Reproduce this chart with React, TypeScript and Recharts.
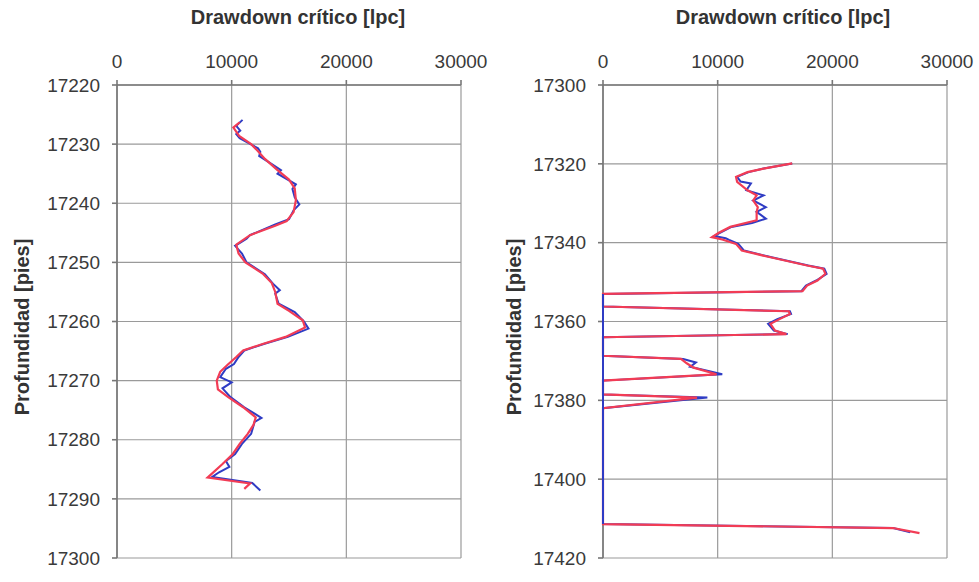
import React from "react";
import { ScatterChart, Scatter, XAxis, YAxis, CartesianGrid } from "recharts";

const BLUE = "#2f3cc4";
const RED = "#f23c55";

// [depth, value]
const leftBlue = [
  [17225.9, 10950], [17226.9, 10400], [17227.7, 10750], [17228.3, 10400],
  [17229.0, 10700], [17230.7, 12300], [17231.3, 12500], [17232.0, 12400],
  [17233.5, 13600], [17234.4, 14300], [17235.0, 14000], [17236.8, 15600],
  [17237.6, 15300], [17239.0, 15500], [17240.2, 15900], [17241.2, 15400],
  [17242.7, 15000], [17243.6, 13800], [17245.4, 11600], [17246.0, 11300],
  [17247.2, 10300], [17248.5, 10900], [17250.0, 11300], [17252.0, 12900],
  [17253.6, 13600], [17254.7, 14200], [17255.3, 13800], [17257.0, 14100],
  [17258.4, 15500], [17260.0, 16300], [17261.2, 16700], [17262.6, 14900],
  [17263.8, 12800], [17264.9, 11100], [17266.0, 10600], [17267.2, 10200],
  [17268.0, 9500], [17269.4, 9000], [17270.3, 10000], [17271.3, 9200],
  [17272.8, 9900], [17274.5, 11100], [17276.3, 12600], [17277.0, 12000],
  [17279.0, 11700], [17280.7, 10900], [17282.4, 10300], [17283.6, 9500],
  [17284.6, 9800], [17285.5, 8900], [17286.3, 8300], [17287.3, 11800],
  [17288.6, 12500],
];

const leftRed = [
  [17226.3, 10700], [17227.2, 10150], [17228.6, 10650], [17230.0, 11700],
  [17231.0, 12200], [17232.5, 12900], [17234.4, 14000], [17236.0, 15000],
  [17237.5, 15500], [17239.5, 15600], [17241.5, 15400], [17243.0, 14800],
  [17243.8, 13800], [17245.4, 11600], [17247.0, 10400], [17248.5, 10600],
  [17250.0, 11200], [17251.9, 12700], [17253.5, 13500], [17255.0, 13800],
  [17257.0, 14000], [17258.2, 15000], [17259.8, 16200], [17261.0, 16400],
  [17262.6, 14700], [17263.8, 12700], [17264.9, 11000], [17266.0, 10400],
  [17267.4, 9600], [17268.5, 9000], [17270.0, 8700], [17271.5, 8800],
  [17272.8, 9700], [17274.5, 11000], [17276.2, 12100], [17277.5, 11900],
  [17279.0, 11400], [17280.7, 10700], [17282.4, 10100], [17284.1, 9200],
  [17286.4, 7900], [17287.4, 11600], [17288.3, 11100],
];

const rightBlue = [
  [17319.9, 16500], [17321.2, 14000], [17322.1, 12700], [17323.3, 11700],
  [17324.5, 12000], [17325.0, 12900], [17326.7, 12500], [17328.0, 14000],
  [17329.3, 13100], [17331.0, 14200], [17332.2, 13400], [17333.9, 14200],
  [17335.0, 13000], [17336.0, 11200], [17338.3, 9700], [17338.9, 10700],
  [17339.3, 11000], [17340.3, 11800], [17342.0, 12300], [17343.7, 14700],
  [17345.8, 17900], [17346.6, 19300], [17347.9, 19500], [17349.6, 18600],
  [17350.9, 17700], [17352.3, 17300], [17353.0, 0], [17356.2, 0],
  [17357.4, 16300], [17358.1, 16400], [17359.4, 15200], [17360.6, 14400],
  [17362.3, 14900], [17363.2, 16100], [17364.0, 0], [17368.7, 0],
  [17369.5, 7000], [17370.4, 8100], [17371.5, 7600], [17373.4, 10400],
  [17375.0, 0], [17378.5, 0], [17379.3, 9100], [17382.0, 0],
  [17411.4, 0], [17412.4, 25300], [17413.5, 26800],
];

const rightRed = [
  [17319.9, 16500], [17321.2, 14000], [17322.1, 12600], [17323.3, 11600],
  [17324.6, 11700], [17326.7, 12600], [17328.0, 13400], [17329.3, 13100],
  [17331.0, 13500], [17332.2, 13400], [17334.3, 13400], [17336.0, 11100],
  [17337.5, 10100], [17338.6, 9500], [17339.2, 10400], [17340.3, 11600],
  [17342.0, 12100], [17343.7, 14600], [17345.8, 17800], [17346.6, 19200],
  [17347.9, 19400], [17349.6, 18700], [17350.9, 17800], [17352.3, 17400],
  [17353.0, 0], [17356.2, 0], [17357.4, 16200], [17358.1, 16300],
  [17359.4, 15400], [17360.6, 14600], [17362.3, 15000], [17363.2, 16000],
  [17364.0, 0], [17368.7, 0], [17369.5, 6800], [17370.6, 7300],
  [17371.7, 7900], [17373.4, 9900], [17375.0, 0], [17378.5, 0],
  [17379.3, 8200], [17382.0, 0], [17411.4, 0], [17412.4, 25300],
  [17413.7, 27600],
];

const xTicks = [0, 10000, 20000, 30000];
const leftDepthTicks = [17220, 17230, 17240, 17250, 17260, 17270, 17280, 17290, 17300];
const rightDepthTicks = [17300, 17320, 17340, 17360, 17380, 17400, 17420];

const toPts = (arr) => arr.map(([d, v]) => ({ d, v }));
const noDot = () => <g />;

const tickStyle = { fill: "#3a3a3a", fontSize: 19, fontFamily: "Liberation Sans, Arial, sans-serif" };

const Panel = ({ width, yAxisWidth, rightMargin, domain, ticks, blue, red }) => {
  const blueZeros = toPts(blue).filter((p) => p.v === 0);
  return (
    <ScatterChart
      width={width}
      height={582}
      margin={{ top: 0, right: rightMargin, bottom: 24, left: 0 }}
    >
      <CartesianGrid stroke="#9a9a9a" strokeWidth={1.2} />
      <XAxis
        type="number"
        dataKey="v"
        orientation="top"
        height={85}
        domain={[0, 30000]}
        ticks={xTicks}
        interval={0}
        tick={tickStyle}
        tickSize={5}
        tickMargin={12}
        stroke="#777"
        strokeWidth={1.6}
      />
      <YAxis
        type="number"
        dataKey="d"
        width={yAxisWidth}
        reversed
        domain={domain}
        ticks={ticks}
        interval={0}
        tick={tickStyle}
        tickSize={5}
        tickMargin={12}
        stroke="#777"
        strokeWidth={1.6}
      />
      <Scatter data={toPts(blue)} line={{ stroke: BLUE, strokeWidth: 2 }} shape={noDot} isAnimationActive={false} />
      <Scatter data={toPts(red)} line={{ stroke: RED, strokeWidth: 2.2 }} shape={noDot} isAnimationActive={false} />
      <Scatter data={blueZeros} line={{ stroke: BLUE, strokeWidth: 2 }} shape={noDot} isAnimationActive={false} />
    </ScatterChart>
  );
};

const labelFont = { fontFamily: "Liberation Sans, Arial, sans-serif", fontWeight: "bold", fontSize: 20, fill: "#333" };

export default function App() {
  return (
    <div style={{ position: "absolute", left: 0, top: 0, width: 979, height: 582, background: "#fff" }}>
      <div style={{ position: "absolute", left: 0, top: 0 }}>
        <Panel width={490} yAxisWidth={117} rightMargin={29} domain={[17220, 17300]} ticks={leftDepthTicks} blue={leftBlue} red={leftRed} />
      </div>
      <div style={{ position: "absolute", left: 490, top: 0 }}>
        <Panel width={489} yAxisWidth={113} rightMargin={32} domain={[17300, 17420]} ticks={rightDepthTicks} blue={rightBlue} red={rightRed} />
      </div>
      <svg width={979} height={582} style={{ position: "absolute", left: 0, top: 0, pointerEvents: "none" }}>
        <text x={298} y={24} textAnchor="middle" style={labelFont}>Drawdown crítico [lpc]</text>
        <text x={783} y={24} textAnchor="middle" style={labelFont}>Drawdown crítico [lpc]</text>
        <text transform="translate(29,327) rotate(-90)" textAnchor="middle" style={labelFont}>Profundidad [pies]</text>
        <text transform="translate(521,327) rotate(-90)" textAnchor="middle" style={labelFont}>Profundidad [pies]</text>
      </svg>
    </div>
  );
}
